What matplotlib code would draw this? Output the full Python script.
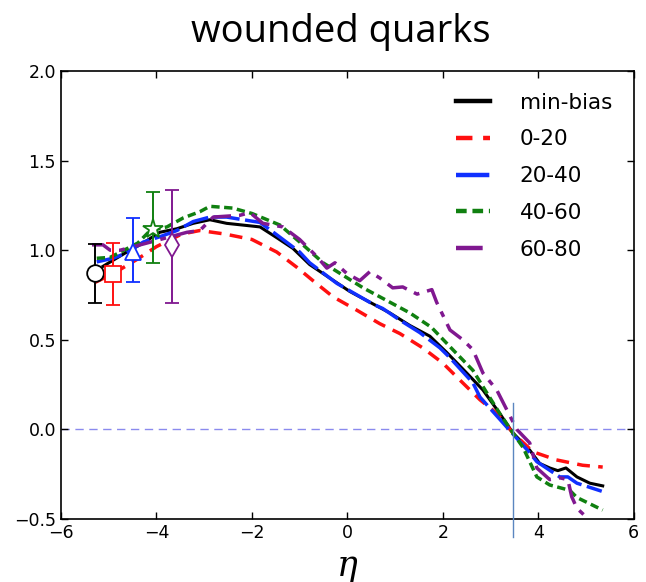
import numpy as np
import matplotlib
matplotlib.use("Agg")
import matplotlib.pyplot as plt


# curves, eta vs ratio
eta_minbias = [-5.12, -4.62, -4.28, -3.93, -3.57, -3.23, -2.88, -2.53, -2.18, -1.83, -1.48, -1.14,
               -0.79, -0.37, 0.05, 0.47, 0.89, 1.31, 1.73, 2.08, 2.50, 2.84, 3.19, 3.47, 3.82, 4.03,
               4.24, 4.41, 4.58, 4.81, 5.08, 5.35]
val_minbias = [0.91, 0.99, 1.04, 1.10, 1.12, 1.15, 1.17, 1.15, 1.14, 1.13, 1.07, 1.01,
               0.92, 0.845, 0.77, 0.71, 0.65, 0.58, 0.52, 0.43, 0.315, 0.22, 0.09, -0.02, -0.115, -0.19,
               -0.215, -0.23, -0.215, -0.265, -0.30, -0.315]

eta_0_20 = [-5.29, -4.9, -4.4, -4.0, -3.47, -3.09, -2.56, -2.0, -1.48, -1.06, -0.72, -0.30, 0.20,
            0.68, 1.1, 1.58, 2.0, 2.36, 2.78, 3.13, 3.47, 3.89, 4.38, 4.93, 5.35]
val_0_20 = [0.82, 0.87, 0.95, 1.02, 1.09, 1.11, 1.09, 1.06, 0.99, 0.905, 0.83, 0.74, 0.665,
            0.59, 0.535, 0.455, 0.37, 0.275, 0.165, 0.09, -0.02, -0.125, -0.17, -0.20, -0.21]

eta_20_40 = [-5.25, -4.91, -4.62, -4.28, -3.93, -3.57, -3.23, -2.88, -2.53, -1.83, -1.55, -1.0,
             -0.79, -0.22, 0.53, 0.74, 1.1, 1.52, 1.94, 2.15, 2.63, 2.78, 3.30, 3.82, 3.97, 4.45,
             4.62, 4.81, 5.33]
val_20_40 = [0.935, 0.955, 0.985, 1.045, 1.075, 1.11, 1.16, 1.185, 1.185, 1.155, 1.10, 0.99,
             0.93, 0.815, 0.70, 0.675, 0.61, 0.54, 0.455, 0.40, 0.26, 0.18, 0.025, -0.13, -0.18, -0.265,
             -0.265, -0.30, -0.345]

eta_40_60 = [-5.25, -4.97, -4.39, -4.13, -3.78, -3.44, -3.09, -2.88, -2.40, -2.0, -1.77, -1.41,
             -0.93, -0.51, -0.09, 0.33, 0.82, 1.31, 1.76, 2.21, 2.63, 2.92, 3.19, 3.47, 3.68, 3.97,
             4.24, 4.66, 4.81, 5.35]
val_40_60 = [0.955, 0.96, 1.04, 1.11, 1.13, 1.18, 1.215, 1.245, 1.235, 1.205, 1.18, 1.14,
             1.03, 0.93, 0.86, 0.79, 0.72, 0.65, 0.57, 0.445, 0.33, 0.205, 0.09, -0.02, -0.10, -0.265,
             -0.31, -0.34, -0.38, -0.45]

eta_60_80 = [-5.35, -5.12, -4.97, -4.76, -3.36, -3.09, -2.81, -2.25, -2.04, -1.77, -1.35, -1.0,
             -0.64, -0.43, -0.26, -0.01, 0.26, 0.47, 0.68, 0.95, 1.16, 1.46, 1.77, 1.87, 2.15, 2.42,
             2.63, 2.84, 3.13, 3.34, 3.55, 3.82, 3.97, 4.24, 4.45, 4.62, 4.70, 4.81, 5.01, 5.2]
val_60_80 = [1.03, 1.03, 1.0, 1.0, 1.10, 1.11, 1.185, 1.195, 1.21, 1.15, 1.13, 1.06,
             0.965, 0.90, 0.93, 0.87, 0.83, 0.88, 0.845, 0.79, 0.795, 0.755, 0.78, 0.71, 0.555, 0.50,
             0.445, 0.315, 0.22, 0.11, 0.0, -0.075, -0.215, -0.28, -0.27, -0.28, -0.375, -0.44, -0.49, -0.55]

# data points with error bars at backward rapidity
pt_eta = [-5.29, -4.91, -4.49, -4.07, -3.68]
pt_val = [0.873, 0.867, 0.99, 1.12, 1.03]
pt_lo = [0.705, 0.694, 0.82, 0.93, 0.705]
pt_hi = [1.035, 1.04, 1.18, 1.325, 1.335]

labels = ["min-bias", "0-20", "20-40", "40-60", "60-80"]
colors = ["black", "#ff1010", "#1030ff", "#108010", "#801890"]
markers = ["o", "s", "^", "*", "d"]

cross_eta = 3.47


def plot_ratio():
    fig = plt.figure(figsize=(6.46, 5.82), dpi=100)
    ax = fig.add_axes([0.0944, 0.1082, 0.8866, 0.7698])

    curves = [(eta_minbias, val_minbias), (eta_0_20, val_0_20), (eta_20_40, val_20_40),
              (eta_40_60, val_40_60), (eta_60_80, val_60_80)]
    dashes = [None, (3.7, 2.4), (7.5, 1.6), (2.4, 1.3), (6, 2.3, 1.7, 2.3)]
    order = [2, 3, 3, 3, 3]
    for (x, y), lab, c, d, z in zip(curves, labels, colors, dashes, order):
        if d is None:
            ax.plot(x, y, color=c, lw=2.2, label=lab, zorder=z)
        else:
            ax.plot(x, y, color=c, lw=2.5, dashes=d, label=lab, zorder=z)

    ax.axhline(0, color="#8a8aee", lw=1, dashes=(6, 4), zorder=1)
    ax.plot([cross_eta, cross_eta], [-0.6, 0.15], color="#5b86c0", lw=1, clip_on=False, zorder=4)

    for i in range(len(pt_eta)):
        yerr = [[pt_val[i] - pt_lo[i]], [pt_hi[i] - pt_val[i]]]
        ms = 15 if markers[i] == "*" else 12
        ax.errorbar([pt_eta[i]], [pt_val[i]], yerr=yerr, color=colors[i], marker=markers[i],
                    ms=ms, mfc="white", mec=colors[i], mew=1.3, capsize=5, elinewidth=1.4,
                    capthick=1.4, zorder=5)

    ax.set_xlim(-6, 6)
    ax.set_ylim(-0.5, 2.0)
    ax.set_xticks([-6, -4, -2, 0, 2, 4, 6])
    ax.set_yticks([-0.5, 0.0, 0.5, 1.0, 1.5, 2.0])
    ax.tick_params(direction="in", labelsize=12.5, length=5, width=1, top=True, right=True)
    for s in ax.spines.values():
        s.set_linewidth(1.2)

    leg = ax.legend(loc="upper right", frameon=False, fontsize=15.5, handlelength=1.55,
                    labelspacing=0.78, handletextpad=1.4, borderaxespad=0.6)
    for h in leg.get_lines():
        h.set_linewidth(3.2)

    fig.text(0.527, 0.945, "wounded quarks", ha="center", va="center", fontsize=27.5,
             family="Open Sans")
    fig.text(0.537, 0.027, "η", ha="center", va="center", fontsize=25, family="DejaVu Serif",
             style="italic")

    fig.savefig("out.png", dpi=100)
    plt.close(fig)


def main():
    plot_ratio()


if __name__ == "__main__":
    main()
